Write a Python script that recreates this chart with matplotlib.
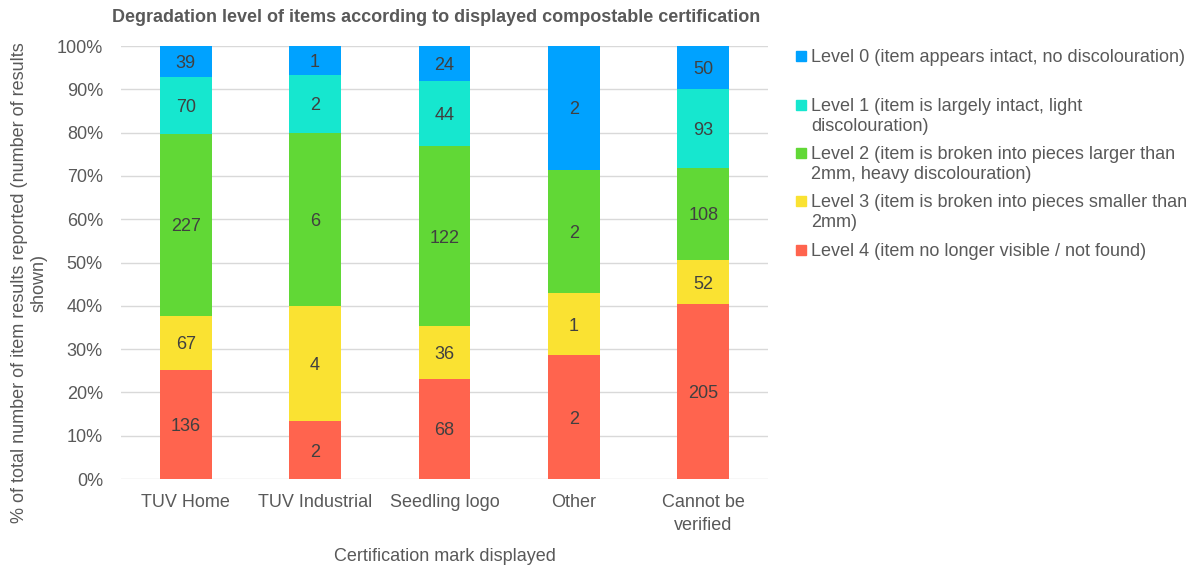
import matplotlib
matplotlib.use('Agg')
import matplotlib.pyplot as plt
from matplotlib.patches import Rectangle
import numpy as np

plt.rcParams['font.family'] = ['Liberation Sans', 'DejaVu Sans']

categories = ['TUV Home', 'TUV Industrial', 'Seedling logo', 'Other', 'Cannot be\nverified']
level4 = [136, 2, 68, 2, 205]
level3 = [67, 4, 36, 1, 52]
level2 = [227, 6, 122, 2, 108]
level1 = [70, 2, 44, 0, 93]
level0 = [39, 1, 24, 2, 50]

series = [level4, level3, level2, level1, level0]
colours = ['#FF644E', '#FAE232', '#61D836', '#16E7CF', '#00A2FF']
legend_labels = [
    'Level 0 (item appears intact, no discolouration)',
    'Level 1 (item is largely intact, light\ndiscolouration)',
    'Level 2 (item is broken into pieces larger than\n2mm, heavy discolouration)',
    'Level 3 (item is broken into pieces smaller than\n2mm)',
    'Level 4 (item no longer visible / not found)',
]
legend_colours = colours[::-1]

grey = '#595959'
fs = 13
counts = np.array(series, dtype=float)
totals = counts.sum(axis=0)
shares = counts / totals * 100

fig = plt.figure(figsize=(11.99, 5.70), dpi=100)
ax = fig.add_axes([0.1009, 0.1596, 0.5396, 0.7596])

x = np.arange(len(categories))
bottom = np.zeros(len(categories))
for vals, share, col in zip(series, shares, colours):
    ax.bar(x, share, 0.40, bottom=bottom, color=col, zorder=3)
    for xi, v, s, b in zip(x, vals, share, bottom):
        if v > 0:
            ax.text(xi, b + s / 2, str(v), ha='center', va='center_baseline',
                    fontsize=fs, color='#404040', zorder=4)
    bottom += share

ax.set_xlim(-0.5, len(categories) - 0.5)
ax.set_ylim(0, 100)
ax.set_yticks(np.arange(0, 101, 10))
ax.set_yticklabels([f'{t}%' for t in range(0, 101, 10)])
ax.set_xticks(x)
ax.set_xticklabels(categories, linespacing=1.45)
ax.tick_params(axis='both', length=0, labelsize=fs, labelcolor=grey)
ax.tick_params(axis='y', pad=13)
ax.tick_params(axis='x', pad=11)
ax.grid(axis='y', color='#D9D9D9', linewidth=1, zorder=0)
for sp in ax.spines.values():
    sp.set_visible(False)

ax.set_xlabel('Certification mark displayed', fontsize=fs, color=grey, labelpad=10)
ax.set_ylabel('% of total number of item results reported (number of results\nshown)',
              fontsize=fs, color=grey)
ax.yaxis.set_label_coords(-0.113, 0.453)

fig.text(436 / 1199, 1 - 17 / 570,
         'Degradation level of items according to displayed compostable certification',
         ha='center', va='center', fontsize=fs, fontweight='bold', color=grey)

# legend drawn by hand so the swatch sits on the first line
leg_y = [56, 105, 153, 201, 250]
for lab, col, yp in zip(legend_labels, legend_colours, leg_y):
    yf = 1 - yp / 570
    fig.add_artist(Rectangle((796 / 1199, yf - 5 / 570), 10 / 1199, 10 / 570,
                             transform=fig.transFigure, color=col))
    fig.text(811 / 1199, yf + 7 / 570, lab, ha='left', va='top', fontsize=fs,
             color=grey, linespacing=1.2)

fig.savefig('out.png', dpi=100)
